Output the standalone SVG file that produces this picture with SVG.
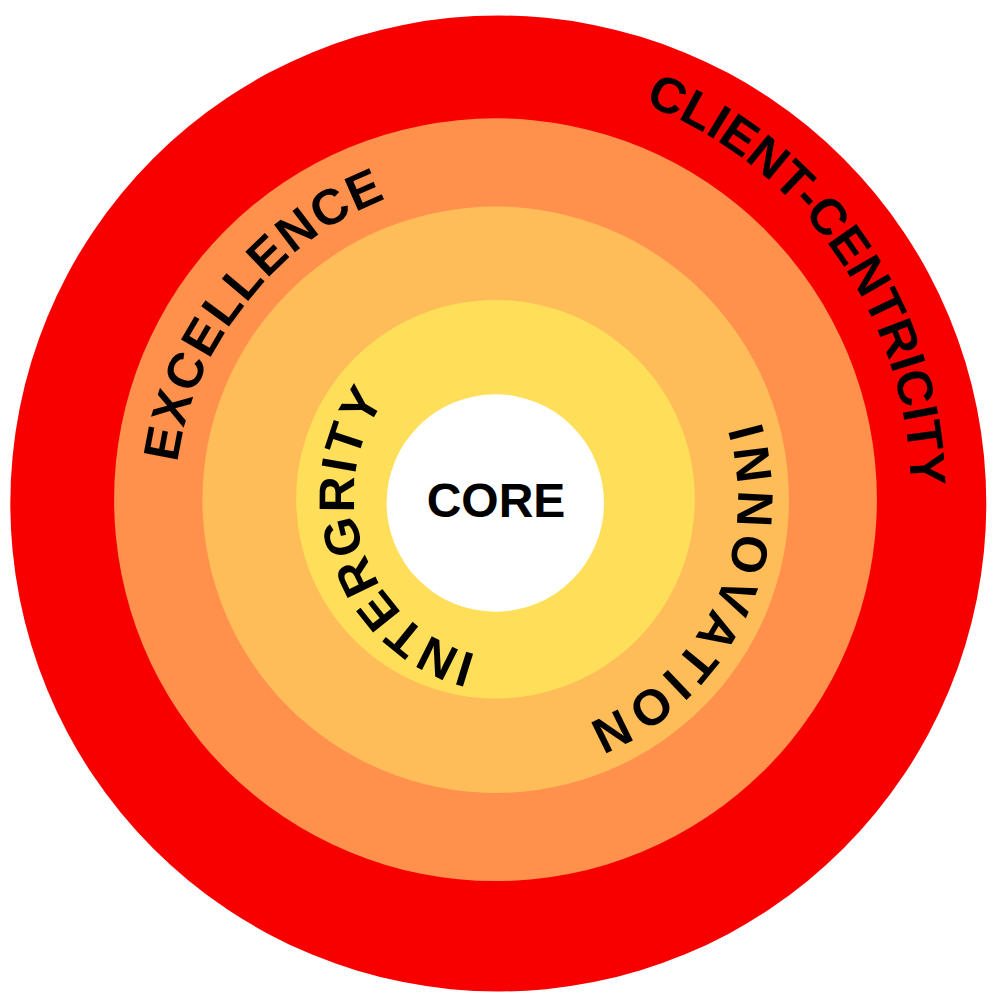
<svg xmlns="http://www.w3.org/2000/svg" width="997" height="997" viewBox="0 0 997 997">
  <style>
    .lbl { font-family: "Liberation Sans", Arial, sans-serif; font-weight: bold; fill: #000000; }
    .ring-text { font-size: 50px; }
  </style>
  <defs>
    <path id="p-client" d="M148.3,734.2 A419,419 0 1 1 835.7,254.8 A419,419 0 1 1 148.3,734.2"/>
    <path id="p-excellence" d="M743.7,696.8 A317,317 0 1 1 247.3,302.6 A317,317 0 1 1 743.7,696.8"/>
    <path id="p-innovation" d="M275.0,400.3 A242,242 0 1 1 716.4,599.1 A242,242 0 1 1 275.0,400.3"/>
    <path id="p-integrity" d="M665.8,443.6 A160,160 0 1 1 364.2,550.4 A160,160 0 1 1 665.8,443.6"/>
  </defs>
  <rect width="997" height="997" fill="#ffffff"/>
  <g id="ring-client-centricity">
    <circle cx="498.3" cy="503.5" r="488" fill="#F90000"/>
  </g>
  <g id="ring-excellence">
    <circle cx="495.5" cy="499.7" r="381.4" fill="#FF914D"/>
  </g>
  <g id="ring-innovation">
    <circle cx="495.7" cy="499.7" r="293.2" fill="#FFBD59"/>
  </g>
  <g id="ring-integrity">
    <circle cx="495.5" cy="499.2" r="199.3" fill="#FFDE59"/>
  </g>
  <g id="core">
    <circle cx="495.3" cy="503" r="108.7" fill="#FFFFFF"/>
    <text class="lbl" x="496" y="517" font-size="48" text-anchor="middle">CORE</text>
  </g>
  <g id="labels">
    <text class="lbl ring-text" letter-spacing="0"><textPath href="#p-client" startOffset="50%" text-anchor="middle">CLIENT-CENTRICITY</textPath></text>
    <text class="lbl ring-text" letter-spacing="1.8"><textPath href="#p-excellence" startOffset="50%" text-anchor="middle">EXCELLENCE</textPath></text>
    <text class="lbl ring-text" letter-spacing="5.5"><textPath href="#p-innovation" startOffset="50.5%" text-anchor="middle">INNOVATION</textPath></text>
    <text class="lbl ring-text" letter-spacing="1.6"><textPath href="#p-integrity" startOffset="50%" text-anchor="middle">INTERGRITY</textPath></text>
  </g>
</svg>
